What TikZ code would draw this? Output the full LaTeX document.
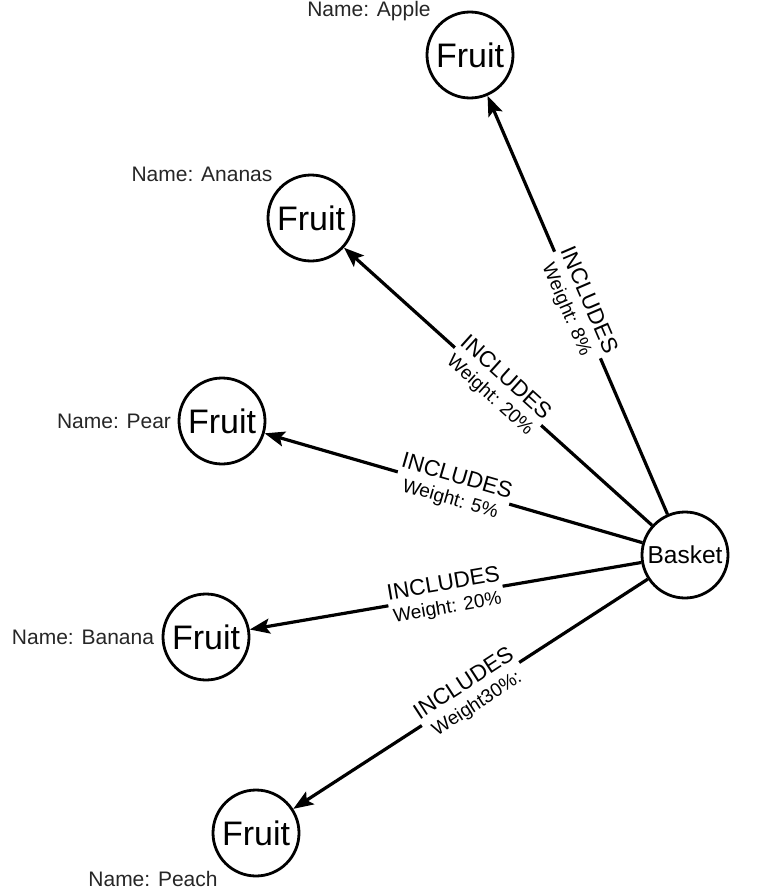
\documentclass[tikz,border=0pt]{standalone}
\usepackage{fontspec}
\setmainfont{Liberation Sans}
\usetikzlibrary{arrows.meta}
\begin{document}
\begin{tikzpicture}[x=1pt,y=-1pt,
  ent/.style={circle,draw,line width=2.8pt,minimum size=86pt,inner sep=0pt,fill=white},
  fruitnode/.style={ent,font=\fontsize{34}{38}\selectfont},
  basketnode/.style={ent,font=\fontsize{24.5}{28}\selectfont},
  namelab/.style={font=\fontsize{21}{24}\selectfont,text=black!85,inner sep=0pt},
  rel/.style={line width=3.2pt,-{Stealth[length=20pt,width=15pt,inset=4pt]}},
  lab/.style={midway,sloped,fill=white,align=center,inner sep=1pt,font=\fontsize{19}{23}\selectfont}]
\useasboundingbox (0,0) rectangle (768,891);
\newcommand{\rellabel}[1]{{\fontsize{22.5}{23}\selectfont INCLUDES}\\#1}
% nodes
\node[basketnode] (basket) at (685,555) {Basket};
\node[fruitnode] (apple) at (470,55) {Fruit};
\node[fruitnode] (ananas) at (311,218) {Fruit};
\node[fruitnode] (pear) at (222,421) {Fruit};
\node[fruitnode] (banana) at (206,637) {Fruit};
\node[fruitnode] (peach) at (256,833) {Fruit};
% name labels
\node[namelab] (napple) at (369,11) {Name: Apple};
\node[namelab] (nananas) at (202,174) {Name: Ananas};
\node[namelab] (npear) at (114,421) {Name: Pear};
\node[namelab] (nbanana) at (83,637) {Name: Banana};
\node[namelab] (npeach) at (153,879) {Name: Peach};
% edges
\draw[rel] (basket) -- node[lab] {\rellabel{Weight: 8\%}} (apple);
\draw[rel] (basket) -- node[lab] {\rellabel{Weight: 20\%}} (ananas);
\draw[rel] (basket) -- node[lab] {\rellabel{Weight: 5\%}} (pear);
\draw[rel] (basket) -- node[lab] {\rellabel{Weight: 20\%}} (banana);
\draw[rel] (basket) -- node[lab] {\rellabel{Weight30\%:}} (peach);
\end{tikzpicture}
\end{document}
